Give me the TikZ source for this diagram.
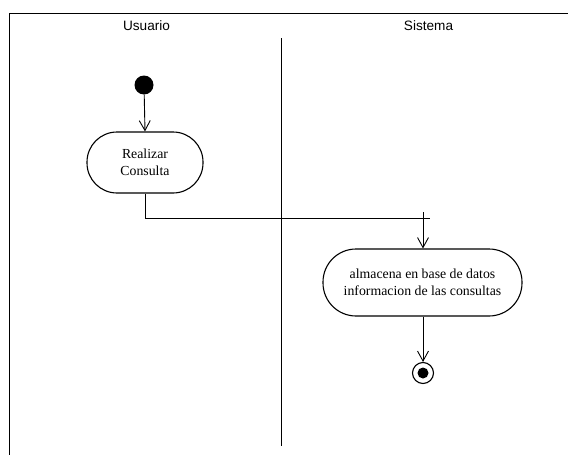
\documentclass[tikz,border=0pt]{standalone}
\usepackage{fontspec}
\setmainfont{Liberation Serif}
\newfontfamily\lanefont{Liberation Sans}
\usetikzlibrary{arrows.meta}
\begin{document}
\begin{tikzpicture}[x=1pt,y=-1pt,
  lanelabel/.style={font=\lanefont\fontsize{13.6}{15}\selectfont, inner sep=0pt},
  activity/.style={draw, line width=1.1pt, rounded corners=#1, align=center,
    font=\fontsize{13.8}{16.5}\selectfont, inner sep=0pt},
  flow/.style={line width=0.9pt, -{Straight Barb[length=10pt,width=11pt,line width=0.9pt]}},
  frame/.style={line width=1.8pt}]
  \useasboundingbox (0,0) rectangle (568,455);
  % swimlane frame and divider
  \draw[frame] (9.5,455) -- (9.5,13.5) -- (568,13.5);
  \draw[line width=1pt] (281,38) -- (281,446);
  \node[lanelabel] (lu) at (146.5,26) {Usuario};
  \node[lanelabel] (ls) at (428.5,26) {Sistema};
  % initial node
  \node[circle, fill=black, minimum size=19pt, inner sep=0pt] (start) at (144,85) {};
  % activities
  \node[activity=30pt, minimum width=116pt, minimum height=61pt] (a1) at (145,162.5)
    {Realizar\\Consulta};
  \node[activity=33pt, minimum width=199pt, minimum height=67pt] (a2) at (422.5,282.5)
    {almacena en base de datos\\informacion de las consultas};
  % final node
  \node[circle, draw, line width=1.1pt, minimum size=21pt, inner sep=0pt] (end) at (423,373) {};
  \node[circle, fill=black, minimum size=11pt, inner sep=0pt] (endin) at (end) {};
  % join bar stub and connectors
  \coordinate (bend) at (a1.south |- 0,218);
  \coordinate (jr) at (430,218);
  \coordinate (jtop) at (423,212);
  \draw[line width=0.9pt] (a1.south) -- (bend) -- (jr);
  \draw[flow] (start) -- (a1.north);
  \draw[flow] (jtop) -- (jtop |- a2.north);
  \draw[flow] (a2.south -| end) -- (end.north);
\end{tikzpicture}
\end{document}
